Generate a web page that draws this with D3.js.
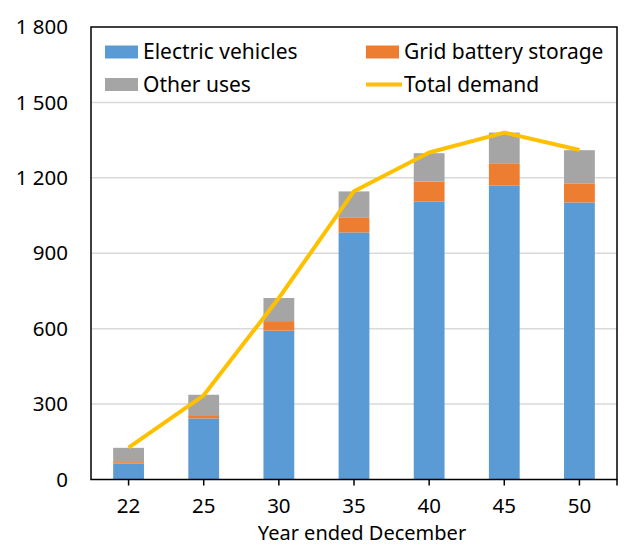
<!DOCTYPE html>
<html>
<head>
<meta charset="utf-8">
<script src="https://cdn.jsdelivr.net/npm/d3@7"></script>
<style>
  body { margin: 0; background: #fff; }
  text { font-family: "Noto Sans", sans-serif; fill: #000; }
</style>
</head>
<body>
<svg id="chart" width="626" height="545"></svg>
<script>
const years = ['22', '25', '30', '35', '40', '45', '50'];
const electricVehicles = [63, 243, 592, 983, 1105, 1170, 1102];
const gridStorage = [6, 13, 38, 60, 80, 88, 76];
const otherUses = [57, 81, 92, 103, 113, 122, 132];
const totalDemand = [127, 335, 722, 1147, 1301, 1380, 1311];
const yTicks = [0, 300, 600, 900, 1200, 1500, 1800];

const series = [
  { key: 'ev', name: 'Electric vehicles', values: electricVehicles, color: '#5B9BD5' },
  { key: 'grid', name: 'Grid battery storage', values: gridStorage, color: '#ED7D31' },
  { key: 'other', name: 'Other uses', values: otherUses, color: '#A5A5A5' }
];

const svg = d3.select('#chart');
const plotLeft = 91, plotRight = 617, plotTop = 27, plotBottom = 479.5;
const fontSize = 20.5;
const legendFontSize = 21;

const x = d3.scaleBand().domain(years).range([plotLeft, plotRight]).paddingInner(0.59).paddingOuter(0.295);
const xc = d => x(d) + x.bandwidth() / 2;
const y = d3.scaleLinear().domain([0, 1800]).range([plotBottom, plotTop]);

const fmt = d3.formatLocale({ decimal: '.', thousands: ' ', grouping: [3], currency: ['', ''] }).format(',');

// gridlines
svg.append('g')
  .selectAll('line')
  .data(yTicks.slice(1, -1))
  .enter().append('line')
  .attr('x1', plotLeft).attr('x2', plotRight)
  .attr('y1', d => y(d)).attr('y2', d => y(d))
  .attr('stroke', '#D9D9D9')
  .attr('stroke-width', 1.5);

// stacked bars
const table = years.map((yr, i) => ({ year: yr, ev: electricVehicles[i], grid: gridStorage[i], other: otherUses[i] }));
const stack = d3.stack().keys(series.map(s => s.key))(table);

svg.append('g')
  .selectAll('g')
  .data(stack)
  .enter().append('g')
  .attr('fill', (d, i) => series[i].color)
  .selectAll('rect')
  .data(d => d)
  .enter().append('rect')
  .attr('x', d => x(d.data.year))
  .attr('width', x.bandwidth())
  .attr('y', d => y(d[1]))
  .attr('height', d => y(d[0]) - y(d[1]));

// total demand line
const line = d3.line()
  .x((d, i) => xc(years[i]))
  .y(d => y(d));

svg.append('path')
  .datum(totalDemand)
  .attr('d', line)
  .attr('fill', 'none')
  .attr('stroke', '#FFC000')
  .attr('stroke-width', 4)
  .attr('stroke-linejoin', 'round');

// frame
svg.append('rect')
  .attr('x', plotLeft).attr('y', plotTop)
  .attr('width', plotRight - plotLeft).attr('height', plotBottom - plotTop)
  .attr('fill', 'none')
  .attr('stroke', '#000')
  .attr('stroke-width', 1.5);

// y axis labels
svg.append('g')
  .selectAll('text')
  .data(yTicks)
  .enter().append('text')
  .attr('x', 68)
  .attr('y', d => y(d))
  .attr('dy', '0.35em')
  .attr('text-anchor', 'end')
  .attr('font-size', fontSize)
  .text(d => fmt(d));

// x axis ticks and labels
const xAxis = svg.append('g').attr('transform', `translate(0,${plotBottom})`)
  .call(d3.axisBottom(x).tickSize(6).tickPadding(13).tickSizeOuter(0));
xAxis.select('.domain').remove();
xAxis.selectAll('.tick line').attr('stroke', '#000').attr('stroke-width', 1.5);
xAxis.selectAll('.tick text')
  .attr('font-size', fontSize)
  .attr('font-family', '"Noto Sans", sans-serif')
  .attr('fill', '#000');
svg.append('line')
  .attr('x1', plotRight).attr('x2', plotRight)
  .attr('y1', plotBottom).attr('y2', plotBottom + 6)
  .attr('stroke', '#000').attr('stroke-width', 1.5);

svg.append('text')
  .attr('x', (plotLeft + plotRight) / 2 + 8)
  .attr('y', 539.5)
  .attr('text-anchor', 'middle')
  .attr('font-size', 20)
  .text('Year ended December');

// legend
const legendItems = [
  { name: series[0].name, color: series[0].color, type: 'rect', lx: 105, ly: 52 },
  { name: series[1].name, color: series[1].color, type: 'rect', lx: 366, ly: 52 },
  { name: series[2].name, color: series[2].color, type: 'rect', lx: 105, ly: 84.5 },
  { name: 'Total demand', color: '#FFC000', type: 'line', lx: 366, ly: 84.5 }
];

const legend = svg.append('g')
  .selectAll('g')
  .data(legendItems)
  .enter().append('g')
  .attr('transform', d => `translate(${d.lx},${d.ly})`);

legend.filter(d => d.type === 'rect').append('rect')
  .attr('x', 0).attr('y', -6.5)
  .attr('width', 33).attr('height', 13)
  .attr('fill', d => d.color);

legend.filter(d => d.type === 'line').append('line')
  .attr('x1', 0).attr('x2', 36)
  .attr('y1', 0).attr('y2', 0)
  .attr('stroke', d => d.color)
  .attr('stroke-width', 4);

legend.append('text')
  .attr('x', 38)
  .attr('y', 0)
  .attr('dy', '0.35em')
  .attr('font-size', legendFontSize)
  .text(d => d.name);
</script>
</body>
</html>
